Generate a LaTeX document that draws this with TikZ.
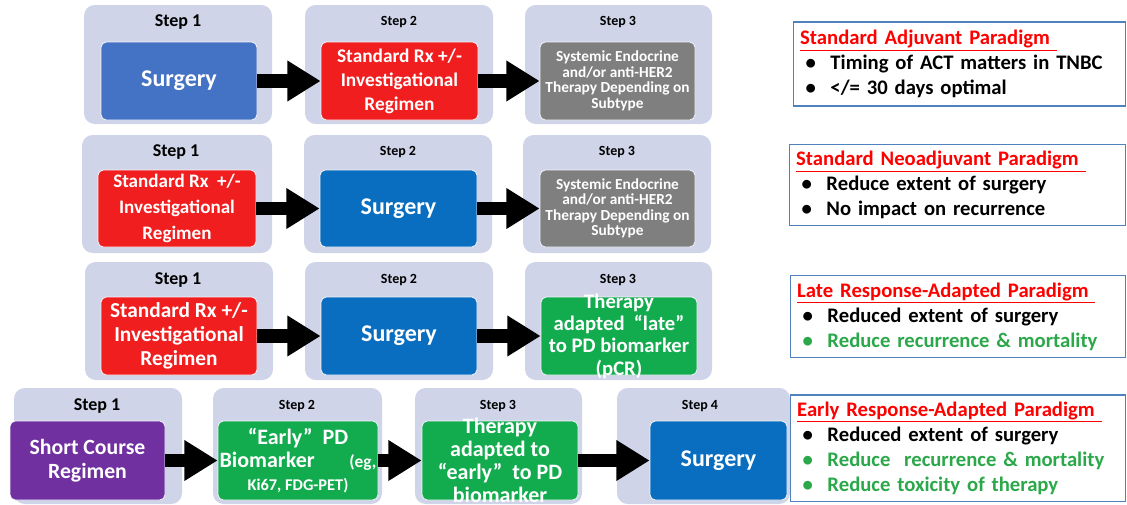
\documentclass[tikz,border=0pt]{standalone}
\usepackage{fontspec}
\setmainfont{Carlito}
\usetikzlibrary{fit,arrows.meta}

\definecolor{panelfill}{HTML}{CFD4E8}
\definecolor{blueA}{HTML}{4472C4}
\definecolor{blueB}{HTML}{0A6EC0}
\definecolor{redbox}{HTML}{F01E1E}
\definecolor{graybox}{HTML}{7F7F7F}
\definecolor{greenbox}{HTML}{12AC4E}
\definecolor{purplebox}{HTML}{7030A0}
\definecolor{greentext}{HTML}{2BA84A}
\definecolor{titlered}{HTML}{FF0000}
\definecolor{noteblue}{HTML}{4F81BD}

\tikzset{
  panel/.style={fill=panelfill, rounded corners=8pt, inner sep=0pt},
  inbox/.style={draw=white!75!panelfill, line width=0.6pt, rounded corners=4pt, inner sep=0pt},
  intext/.style={text=white, align=center, font=\bfseries\fontsize{14.5}{18}\selectfont},
  steplbl/.style={font=\bfseries\fontsize{10.5}{12}\selectfont},
  steplbig/.style={font=\bfseries\fontsize{13.5}{15}\selectfont},
  blockarrow/.style={line width=10pt, -{Triangle[length=25pt,width=29pt]}},
  notebox/.style={draw=noteblue, line width=0.8pt, anchor=west, align=left, inner sep=5pt,
    font=\bfseries\fontsize{15.5}{18.75}\selectfont},
}
\newcommand{\notetitle}[1]{\textcolor{titlered}{\underline{#1\ }}}
\newcommand{\notebul}[1]{\hspace*{4pt}\textbullet\hspace{11pt}#1}

\begin{document}
\begin{tikzpicture}[x=0.75pt,y=-0.75pt]
\useasboundingbox (0,0) rectangle (1127,504);

% row 1: standard adjuvant
\node[panel, fit={(84,5) (272,124)}] (p11) {};
\node[panel, fit={(305,5) (493,124)}] (p12) {};
\node[panel, fit={(525,5) (712,124)}] (p13) {};
\node[steplbig] (s11) at (178,22) {Step 1};
\node[steplbl] (s12) at (399,22) {Step 2};
\node[steplbl] (s13) at (618,22) {Step 3};
\node[inbox, fill=blueA, fit={(101,42) (257,120)},
  label={[intext,font=\bfseries\fontsize{18}{21}\selectfont]center:Surgery}] (b11) {};
\node[inbox, fill=redbox, fit={(321,42) (478,120)},
  label={[intext]center:{Standard Rx +/-\\Investigational\\Regimen}}] (b12) {};
\node[inbox, fill=graybox, fit={(540,42) (695,120)},
  label={[intext,font=\bfseries\fontsize{11.5}{11.6}\selectfont]center:{Systemic Endocrine\\and/or anti-HER2\\Therapy Depending on\\Subtype}}] (b13) {};
\draw[blockarrow] (b11) -- (b12);
\draw[blockarrow] (b12) -- (b13);

% row 2: standard neoadjuvant
\node[panel, fit={(82,135) (272,253)}] (p21) {};
\node[panel, fit={(304,135) (492,253)}] (p22) {};
\node[panel, fit={(523,135) (711,253)}] (p23) {};
\node[steplbig] (s21) at (176,152) {Step 1};
\node[steplbl] (s22) at (398,152) {Step 2};
\node[steplbl] (s23) at (617,152) {Step 3};
\node[inbox, fill=redbox, fit={(98,170) (256,247)},
  label={[intext,font=\bfseries\fontsize{14.3}{19.5}\selectfont]center:{Standard Rx\ \ +/-\\Investigational\\Regimen}}] (b21) {};
\node[inbox, fill=blueB, fit={(320,170) (477,247)},
  label={[intext,font=\bfseries\fontsize{18}{21}\selectfont]center:Surgery}] (b22) {};
\node[inbox, fill=graybox, fit={(540,170) (695,247)},
  label={[intext,font=\bfseries\fontsize{11.5}{11.6}\selectfont]center:{Systemic Endocrine\\and/or anti-HER2\\Therapy Depending on\\Subtype}}] (b23) {};
\draw[blockarrow] (b21) -- (b22);
\draw[blockarrow] (b22) -- (b23);

% row 3: late response-adapted
\node[panel, fit={(85,262) (273,380)}] (p31) {};
\node[panel, fit={(305,262) (493,380)}] (p32) {};
\node[panel, fit={(525,262) (712,380)}] (p33) {};
\node[steplbig] (s31) at (178,280) {Step 1};
\node[steplbl] (s32) at (399,280) {Step 2};
\node[steplbl] (s33) at (618,280) {Step 3};
\node[inbox, fill=redbox, fit={(101,297) (257,375)},
  label={[intext,font=\bfseries\fontsize{16}{18}\selectfont]center:{Standard Rx +/-\\Investigational\\Regimen}}] (b31) {};
\node[inbox, fill=blueB, fit={(321,297) (477,375)},
  label={[intext,font=\bfseries\fontsize{18}{21}\selectfont]center:Surgery}] (b32) {};
\node[inbox, fill=greenbox, fit={(541,297) (697,375)},
  label={[intext,font=\bfseries\fontsize{15.5}{16.8}\selectfont]center:{Therapy\\adapted\ \ “late”\\to PD biomarker\\(pCR)}}] (b33) {};
\draw[blockarrow] (b31) -- (b32);
\draw[blockarrow] (b32) -- (b33);

% row 4: early response-adapted
\node[panel, fit={(14,388) (182,504)}] (p41) {};
\node[panel, fit={(213,388) (382,504)}] (p42) {};
\node[panel, fit={(415,388) (582,504)}] (p43) {};
\node[panel, fit={(617,388) (790,504)}] (p44) {};
\node[steplbig] (s41) at (97,406) {Step 1};
\node[steplbl] (s42) at (297,406) {Step 2};
\node[steplbl] (s43) at (498,406) {Step 3};
\node[steplbl] (s44) at (700,406) {Step 4};
\node[inbox, fill=purplebox, fit={(10,421) (165,500)},
  label={[intext,font=\bfseries\fontsize{16.3}{18}\selectfont]center:{Short Course\\Regimen}}] (b41) {};
\node[inbox, fill=greenbox, fit={(218,421) (378,500)},
  label={[intext,font=\bfseries\fontsize{16.5}{17.5}\selectfont]center:{“Early”\ \ PD\\Biomarker\hspace{26pt}{\fontsize{13}{14}\selectfont(eg,}\\{\fontsize{12.3}{13}\selectfont Ki67, FDG-PET)}}}] (b42) {};
\node[inbox, fill=greenbox, fit={(422,421) (578,500)},
  label={[intext,font=\bfseries\fontsize{16.5}{17.2}\selectfont]center:{Therapy\\adapted to\\“early”\ \ to PD\\biomarker}}] (b43) {};
\node[inbox, fill=blueB, fit={(650,421) (787,500)},
  label={[intext,font=\bfseries\fontsize{18}{21}\selectfont]center:Surgery}] (b44) {};
\draw[blockarrow] (b41) -- (b42);
\draw[blockarrow] (b42) -- (b43);
\draw[blockarrow] (b43) -- (b44);

% paradigm notes
\node[notebox, fill=white, minimum width=249pt, minimum height=63pt, text width=239pt] (n1) at (793,64)
  {\notetitle{Standard Adjuvant Paradigm}\\
   \notebul{Timing of ACT matters in TNBC}\\
   \notebul{</= 30 days optimal}};
\node[notebox, fill=white, minimum width=252pt, minimum height=60pt, text width=242pt] (n2) at (789,185)
  {\notetitle{Standard Neoadjuvant Paradigm}\\
   \notebul{Reduce extent of surgery}\\
   \notebul{No impact on recurrence}};
\node[notebox, fill=white, minimum width=251pt, minimum height=62pt, text width=241pt] (n3) at (790,316.5)
  {\notetitle{Late Response-Adapted Paradigm}\\
   \notebul{Reduced extent of surgery}\\
   \textcolor{greentext}{\notebul{Reduce recurrence \& mortality}}};
\node[notebox, fill=white, minimum width=251pt, minimum height=79.5pt, text width=241pt] (n4) at (790,448)
  {\notetitle{Early Response-Adapted Paradigm}\\
   \notebul{Reduced extent of surgery}\\
   \textcolor{greentext}{\notebul{Reduce\ \ recurrence \& mortality}}\\
   \textcolor{greentext}{\notebul{Reduce toxicity of therapy}}};
\end{tikzpicture}
\end{document}
